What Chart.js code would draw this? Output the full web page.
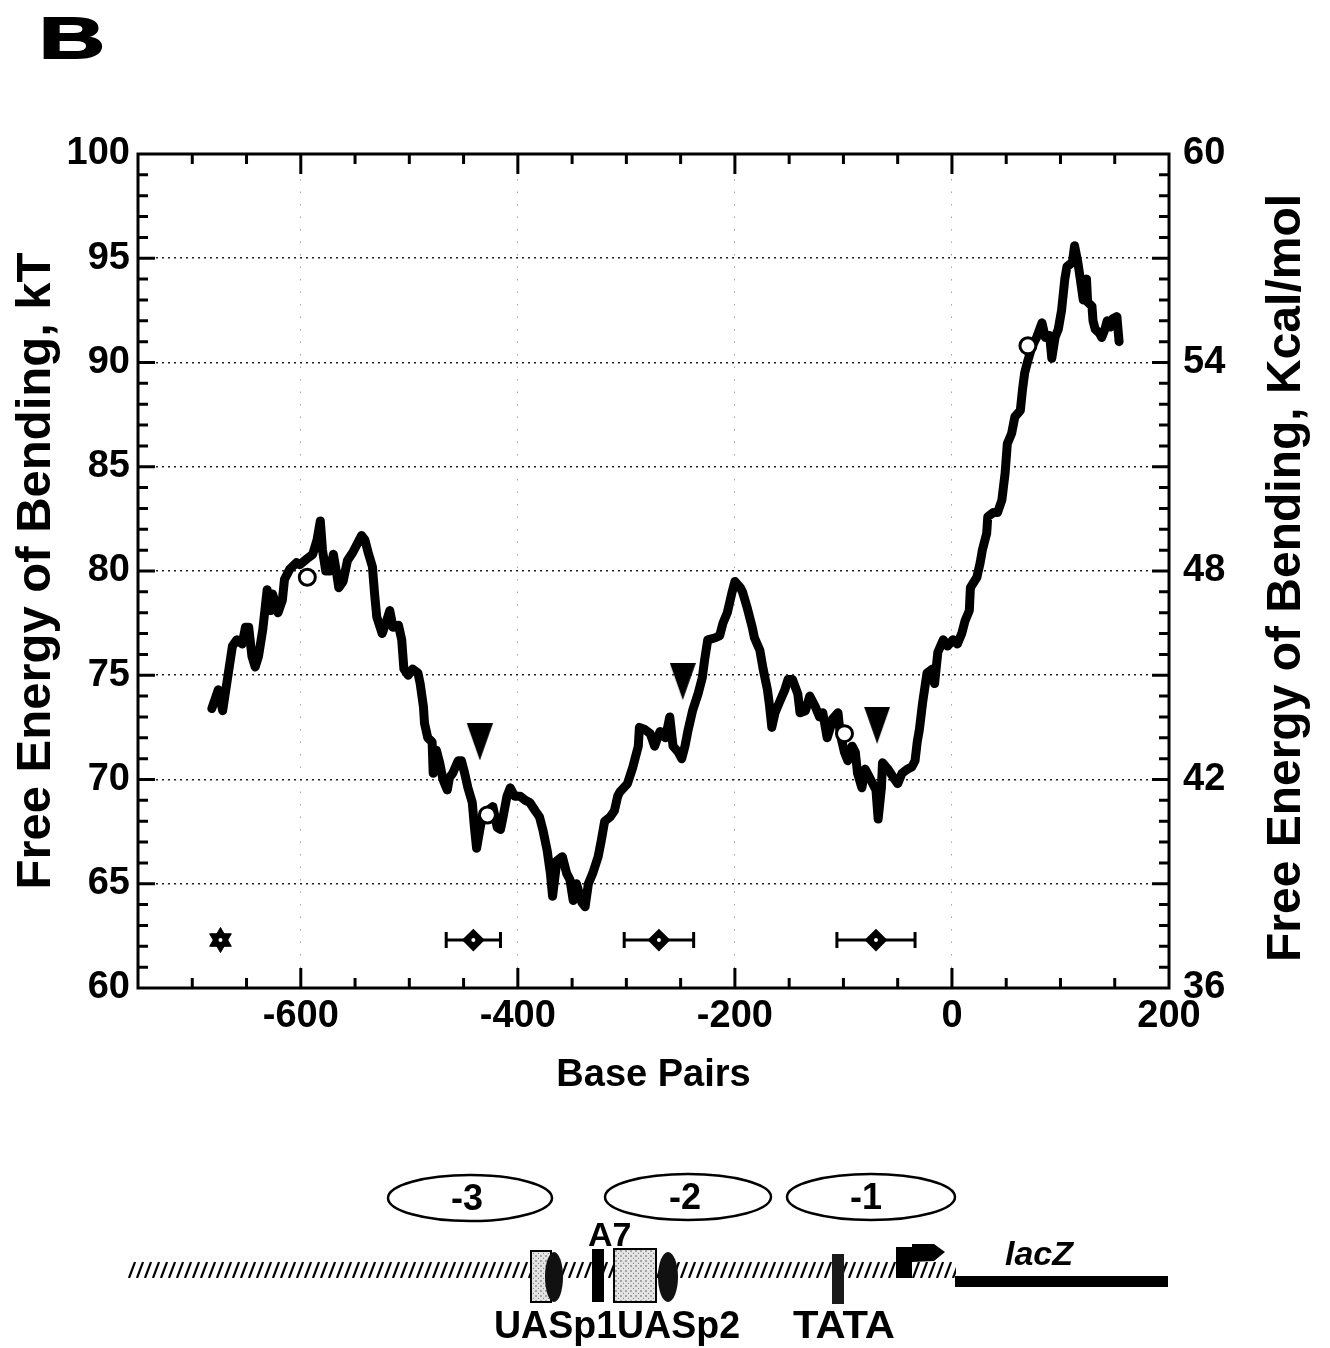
<!DOCTYPE html>
<html>
<head>
<meta charset="utf-8">
<title>Free Energy of Bending</title>
<script src="https://cdn.jsdelivr.net/npm/chart.js@4.4.1/dist/chart.umd.min.js"></script>
<style>
  html, body { margin: 0; padding: 0; background: #fff; }
  #wrap { position: relative; width: 1330px; height: 1348px; overflow: hidden; }
  #bendingChart { position: absolute; left: 0; top: 0; }
  #overlay { position: absolute; left: 0; top: 0; }
  #overlay text { font-family: "Liberation Sans", Arial, Helvetica, sans-serif; font-weight: bold; fill: #000; }
</style>
</head>
<body>
<div id="wrap">
  <canvas id="bendingChart" width="1330" height="1110"></canvas>
  <svg id="overlay" width="1330" height="1348" xmlns="http://www.w3.org/2000/svg">
    <defs>
      <pattern id="hatch" x="0" y="1262" width="8" height="16" patternUnits="userSpaceOnUse">
        <line x1="1" y1="16" x2="7" y2="0" stroke="#000" stroke-width="2.2"/>
      </pattern>
      <pattern id="stipple" width="5" height="5" patternUnits="userSpaceOnUse">
        <rect width="5" height="5" fill="#e4e4e4"/>
        <circle cx="1" cy="1" r="0.8" fill="#555"/>
        <circle cx="3.5" cy="3.3" r="0.6" fill="#777"/>
      </pattern>
    </defs>

    <!-- panel letter -->
    <text x="0" y="0" font-size="57" transform="translate(39,58) scale(1.6,1)" stroke="#000" stroke-width="1.8">B</text>

    <!-- right-hand axis title, reading bottom to top -->
    <text transform="translate(1300,578) rotate(-90)" text-anchor="middle" font-size="48">Free Energy of Bending, Kcal/mol</text>

    <!-- promoter map: nucleosome positions -->
    <ellipse cx="470" cy="1198" rx="82" ry="23" fill="#fff" stroke="#000" stroke-width="2.5"/>
    <ellipse cx="688" cy="1197" rx="83" ry="23" fill="#fff" stroke="#000" stroke-width="2.5"/>
    <ellipse cx="871" cy="1197" rx="84" ry="23" fill="#fff" stroke="#000" stroke-width="2.5"/>
    <text x="467" y="1210" font-size="36" text-anchor="middle">-3</text>
    <text x="685" y="1209" font-size="36" text-anchor="middle">-2</text>
    <text x="866" y="1209" font-size="36" text-anchor="middle">-1</text>

    <!-- DNA -->
    <rect x="128" y="1262" width="828" height="16" fill="url(#hatch)"/>
    <rect x="955" y="1276" width="213" height="11" fill="#000"/>

    <!-- UASp1 -->
    <rect x="531" y="1251" width="20" height="51" fill="url(#stipple)" stroke="#000" stroke-width="2"/>
    <ellipse cx="554" cy="1277" rx="9" ry="25" fill="#111"/>
    <!-- A7 -->
    <rect x="592" y="1249" width="12" height="53" fill="#000"/>
    <text x="588" y="1246" font-size="34">A7</text>
    <!-- UASp2 -->
    <rect x="614" y="1249" width="42" height="53" fill="url(#stipple)" stroke="#000" stroke-width="2"/>
    <ellipse cx="668" cy="1277" rx="10" ry="25" fill="#111"/>
    <!-- TATA -->
    <rect x="832" y="1254" width="12" height="50" fill="#1a1a1a"/>
    <!-- transcription start -->
    <polygon points="896,1247 912,1247 912,1244 934,1244 945,1252 934,1261 912,1262 912,1278 896,1278" fill="#000"/>

    <text x="1005" y="1265" font-size="34" font-style="italic">lacZ</text>
    <text x="494" y="1338" font-size="38" textLength="246" lengthAdjust="spacingAndGlyphs">UASp1UASp2</text>
    <text x="793" y="1338" font-size="38" textLength="102" lengthAdjust="spacingAndGlyphs">TATA</text>
  </svg>
</div>

<script>
// Bending free energy along the promoter (kT), position in base pairs
const basePairs = [
  -682, -676, -672, -663, -659, -654, -651, -648, -645, -642,
  -639, -635, -631, -628, -626, -621, -617, -615, -610, -604,
  -601, -594, -589, -585, -582, -580, -577, -573, -570, -567,
  -565, -561, -557, -552, -548, -544, -541, -538, -534, -532,
  -530, -525, -521, -518, -515, -510, -507, -505, -501, -497,
  -492, -490, -487, -486, -483, -479, -478, -475, -472, -469,
  -465, -463, -460, -455, -452, -449, -446, -442, -440, -438,
  -435, -432, -428, -423, -419, -416, -414, -410, -407, -403,
  -398, -393, -389, -384, -380, -377, -373, -370, -368, -364,
  -359, -355, -352, -349, -346, -341, -338, -335, -331, -326,
  -323, -320, -315, -311, -308, -306, -299, -294, -289, -288,
  -283, -278, -274, -269, -264, -260, -257, -252, -249, -246,
  -243, -239, -234, -230, -228, -225, -218, -214, -211, -207,
  -203, -200, -195, -193, -189, -184, -182, -177, -174, -170,
  -168, -166, -163, -159, -154, -151, -147, -142, -140, -135,
  -131, -126, -122, -119, -115, -112, -110, -105, -103, -99,
  -96, -92, -89, -87, -83, -80, -76, -73, -70, -68,
  -65, -64, -59, -54, -50, -46, -41, -37, -34, -32,
  -30, -27, -23, -18, -16, -13, -8, -4, 1, 5,
  9, 12, 16, 17, 23, 26, 28, 32, 33, 38,
  42, 46, 49, 51, 55, 58, 63, 65, 67, 70,
  74, 78, 83, 86, 90, 92, 95, 98, 101, 104,
  106, 111, 113, 116, 118, 121, 124, 125, 129, 130,
  132, 136, 138, 141, 143, 146, 148, 152, 153, 154
];
const bendingKT = [
  73.4, 74.3, 73.3, 76.4, 76.7, 76.5, 77.3, 77.3, 75.9, 75.4,
  75.9, 77.2, 79.1, 78.1, 78.9, 78.0, 78.6, 79.6, 80.1, 80.4,
  80.3, 80.6, 80.8, 81.5, 82.4, 81.0, 80.0, 80.0, 80.8, 79.9,
  79.2, 79.5, 80.5, 80.9, 81.3, 81.7, 81.5, 80.9, 80.2, 78.9,
  77.8, 77.0, 77.6, 78.1, 77.3, 77.4, 76.7, 75.3, 75.0, 75.3,
  75.1, 74.6, 73.5, 72.7, 72.0, 71.8, 70.3, 71.4, 70.8, 70.0,
  69.5, 70.1, 70.3, 70.9, 70.9, 70.3, 69.6, 68.9, 67.7, 66.7,
  67.6, 68.4, 68.5, 68.7, 67.7, 67.6, 68.1, 69.2, 69.6, 69.2,
  69.2, 69.0, 68.9, 68.5, 68.2, 67.6, 66.6, 65.5, 64.4, 66.1,
  66.3, 65.5, 65.2, 64.2, 65.0, 64.1, 63.9, 65.0, 65.5, 66.3,
  67.1, 68.0, 68.2, 68.5, 69.2, 69.4, 69.8, 70.6, 71.6, 72.5,
  72.4, 72.2, 71.6, 72.3, 72.0, 73.0, 71.6, 71.3, 71.0, 71.6,
  72.4, 73.3, 74.1, 74.9, 75.7, 76.7, 76.8, 76.9, 77.5, 78.0,
  78.9, 79.5, 79.2, 79.0, 78.3, 77.3, 76.8, 76.2, 75.3, 74.3,
  73.5, 72.5, 73.2, 73.7, 74.3, 74.8, 74.8, 74.1, 73.2, 73.3,
  74.0, 73.5, 73.0, 73.2, 72.0, 72.5, 72.9, 73.2, 72.2, 71.3,
  70.9, 71.6, 71.3, 70.3, 69.6, 70.5, 70.1, 69.8, 69.5, 68.1,
  69.6, 70.8, 70.5, 70.1, 69.8, 70.3, 70.5, 70.6, 70.9, 71.8,
  72.4, 73.7, 75.1, 75.3, 74.6, 76.1, 76.7, 76.4, 76.7, 76.5,
  77.0, 77.6, 78.1, 79.2, 79.7, 80.4, 81.0, 81.8, 82.6, 82.8,
  82.8, 83.4, 84.7, 86.1, 86.6, 87.4, 87.7, 88.7, 89.5, 90.1,
  90.8, 91.2, 91.9, 91.2, 91.3, 90.2, 91.2, 91.6, 92.5, 94.0,
  94.6, 94.8, 95.6, 94.8, 94.1, 93.0, 94.0, 92.9, 92.7, 92.0,
  91.6, 91.4, 91.2, 91.6, 92.0, 91.7, 92.1, 92.2, 91.6, 91.0
];

// open circles sitting on the curve
const circleBP = [-594, -428, -99, 70];
const circleKT = [79.7, 68.3, 72.2, 90.8];

// filled arrowheads above the minima
const arrowBP = [-435, -248, -69];
const arrowKT = [71.8, 74.7, 72.6];

// mapped nucleosome centres with their spread
const nucBP = [-441, -270, -70];
const nucKT = [62.3, 62.3, 62.3];
const nucSpread = [25, 32, 36];

// lone star marker at the left end
const starBP = [-674];
const starKT = [62.3];

// axis ticks
const xTickValues = [-600, -400, -200, 0, 200];
const kTTickValues = [60, 65, 70, 75, 80, 85, 90, 95, 100];
const kcalTickValues = [36, 42, 48, 54, 60];
const xMinorStep = 50;
const yMinorStep = 1;

const FONT = '"Liberation Sans", Arial, Helvetica, sans-serif';
Chart.defaults.font.family = FONT;
Chart.defaults.color = '#000';

function pairs(xs, ys) {
  return xs.map((x, i) => ({ x: x, y: ys[i] }));
}

// tall narrow downward arrowhead used as a point image
function arrowHead(w, h) {
  const c = document.createElement('canvas');
  c.width = w;
  c.height = h;
  const g = c.getContext('2d');
  g.fillStyle = '#000';
  g.beginPath();
  g.moveTo(0, 0);
  g.lineTo(w, 0);
  g.lineTo(w / 2, h);
  g.closePath();
  g.fill();
  return c;
}

// box around the plot with inward tick marks on all four sides,
// plus the horizontal spread bars under the diamonds
const frameTicks = {
  id: 'frameTicks',
  beforeDatasetsDraw(chart) {
    const { ctx, scales: { x, y } } = chart;
    ctx.save();
    ctx.strokeStyle = '#000';
    ctx.lineWidth = 3;
    ctx.beginPath();
    nucBP.forEach((bp, i) => {
      const py = y.getPixelForValue(nucKT[i]);
      const l = x.getPixelForValue(bp - nucSpread[i]);
      const r = x.getPixelForValue(bp + nucSpread[i]);
      ctx.moveTo(l, py); ctx.lineTo(r, py);
      ctx.moveTo(l, py - 8); ctx.lineTo(l, py + 8);
      ctx.moveTo(r, py - 8); ctx.lineTo(r, py + 8);
    });
    ctx.stroke();
    ctx.restore();
  },
  afterDatasetsDraw(chart) {
    const { ctx, chartArea: a, scales: { x, y } } = chart;
    ctx.save();
    ctx.strokeStyle = '#000';
    ctx.lineWidth = 3;
    ctx.lineCap = 'butt';
    ctx.strokeRect(a.left, a.top, a.right - a.left, a.bottom - a.top);
    ctx.beginPath();
    for (let v = x.min + xMinorStep; v < x.max; v += xMinorStep) {
      const px = x.getPixelForValue(v);
      const len = xTickValues.includes(v) ? 20 : 10;
      ctx.moveTo(px, a.bottom); ctx.lineTo(px, a.bottom - len);
      ctx.moveTo(px, a.top); ctx.lineTo(px, a.top + len);
    }
    for (let v = y.min + yMinorStep; v < y.max; v += yMinorStep) {
      const py = y.getPixelForValue(v);
      const len = kTTickValues.includes(v) ? 17 : 10;
      ctx.moveTo(a.left, py); ctx.lineTo(a.left + len, py);
      ctx.moveTo(a.right, py); ctx.lineTo(a.right - len, py);
    }
    ctx.stroke();
    ctx.restore();
  }
};

const ctx = document.getElementById('bendingChart').getContext('2d');
new Chart(ctx, {
  type: 'line',
  data: {
    datasets: [
      {
        label: 'Bending energy',
        data: pairs(basePairs, bendingKT),
        borderColor: '#000',
        borderWidth: 9,
        borderJoinStyle: 'round',
        borderCapStyle: 'round',
        pointRadius: 0,
        tension: 0,
        order: 10
      },
      {
        label: 'Circles',
        data: pairs(circleBP, circleKT),
        showLine: false,
        pointStyle: 'circle',
        pointRadius: 8,
        pointBorderWidth: 3,
        pointBorderColor: '#000',
        pointBackgroundColor: '#fff',
        order: 2
      },
      {
        label: 'Arrowheads',
        data: pairs(arrowBP, arrowKT),
        showLine: false,
        pointStyle: arrowHead(26, 37),
        order: 2
      },
      {
        label: 'Nucleosomes',
        data: pairs(nucBP, nucKT),
        showLine: false,
        pointStyle: 'rectRot',
        pointRadius: 10,
        pointBorderWidth: 2,
        pointBorderColor: '#000',
        pointBackgroundColor: '#000',
        order: 2
      },
      {
        label: 'Star up',
        data: pairs(starBP, starKT),
        showLine: false,
        pointStyle: 'triangle',
        pointRadius: 12.5,
        pointBorderWidth: 1,
        pointBorderColor: '#000',
        pointBackgroundColor: '#000',
        order: 2
      },
      {
        label: 'Star down',
        data: pairs(starBP, starKT),
        showLine: false,
        pointStyle: 'triangle',
        pointRotation: 180,
        pointRadius: 12.5,
        pointBorderWidth: 1,
        pointBorderColor: '#000',
        pointBackgroundColor: '#000',
        order: 2
      },
      {
        label: 'Centres',
        data: pairs(nucBP.concat(starBP), nucKT.concat(starKT)),
        showLine: false,
        pointStyle: 'circle',
        pointRadius: 2,
        pointBorderWidth: 0,
        pointBackgroundColor: '#fff',
        order: 0
      }
    ]
  },
  options: {
    responsive: false,
    animation: false,
    layout: { padding: { top: 154, right: 0, bottom: 0, left: 0 } },
    plugins: {
      legend: { display: false },
      tooltip: { enabled: false }
    },
    scales: {
      x: {
        type: 'linear',
        min: -750,
        max: 200,
        afterBuildTicks: (s) => { s.ticks = xTickValues.map((v) => ({ value: v })); },
        afterFit: (s) => { s.height = 122; },
        grid: {
          drawTicks: false,
          lineWidth: 1,
          color: (c) => (c.tick && c.tick.value < 200 ? 'rgba(0,0,0,0.35)' : 'rgba(0,0,0,0)')
        },
        border: { display: false, dash: [1.5, 11] },
        ticks: {
          padding: 6,
          maxRotation: 0,
          font: { size: 38, weight: 'bold' },
          color: '#000'
        },
        title: {
          display: true,
          text: 'Base Pairs',
          font: { size: 38, weight: 'bold' },
          color: '#000',
          padding: { top: 0, bottom: 12 }
        }
      },
      y: {
        type: 'linear',
        position: 'left',
        min: 60,
        max: 100,
        afterBuildTicks: (s) => { s.ticks = kTTickValues.map((v) => ({ value: v })); },
        afterFit: (s) => { s.width = 138; },
        grid: {
          drawTicks: false,
          lineWidth: 1.6,
          color: (c) => (c.tick && c.tick.value > 60 && c.tick.value < 100 ? '#222' : 'rgba(0,0,0,0)')
        },
        border: { display: false, dash: [2, 4] },
        ticks: {
          padding: 8,
          font: { size: 38, weight: 'bold' },
          color: '#000'
        },
        title: {
          display: true,
          text: 'Free Energy of Bending, kT',
          font: { size: 49, weight: 'bold' },
          color: '#000',
          padding: { top: 7, bottom: 0 }
        }
      },
      y2: {
        type: 'linear',
        position: 'right',
        display: true,
        min: 36,
        max: 60,
        afterBuildTicks: (s) => { s.ticks = kcalTickValues.map((v) => ({ value: v })); },
        afterFit: (s) => { s.width = 161; },
        grid: { drawOnChartArea: false, drawTicks: false },
        border: { display: false },
        ticks: {
          padding: 14,
          font: { size: 38, weight: 'bold' },
          color: '#000'
        }
      }
    }
  },
  plugins: [frameTicks]
});
</script>
</body>
</html>
